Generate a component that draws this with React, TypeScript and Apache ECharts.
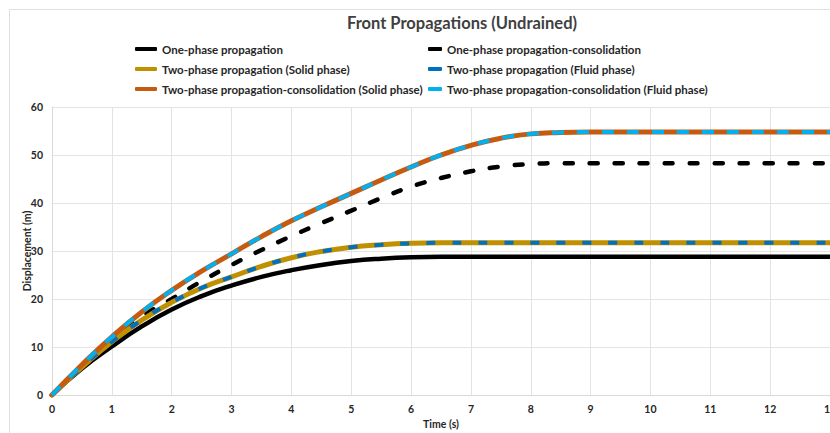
import React, { useEffect, useRef } from "react";
import * as echarts from "echarts";

// Time samples (s)
const time = [0, 0.5, 1, 1.5, 2, 2.5, 3, 3.5, 4, 4.5, 5, 5.5, 6, 6.5, 7, 7.5, 8, 8.5, 9, 9.5, 10, 10.5, 11, 11.5, 12, 12.5, 13];

// Displacement (m) of each front
const onePhase = [0, 5.5, 10.1, 14.3, 17.8, 20.6, 22.8, 24.6, 26.0, 27.1, 27.9, 28.4, 28.7, 28.8, 28.8, 28.8, 28.8, 28.8, 28.8, 28.8, 28.8, 28.8, 28.8, 28.8, 28.8, 28.8, 28.8];
const onePhaseConsol = [0, 6.0, 11.6, 16.3, 20.0, 23.7, 27.1, 30.2, 33.1, 35.8, 38.4, 41.0, 43.4, 45.2, 46.6, 47.6, 48.1, 48.3, 48.3, 48.3, 48.3, 48.3, 48.3, 48.3, 48.3, 48.3, 48.3];
const twoPhaseSolid = [0, 5.8, 11.1, 15.6, 19.3, 22.3, 24.6, 26.8, 28.6, 29.9, 30.8, 31.3, 31.6, 31.7, 31.7, 31.7, 31.7, 31.7, 31.7, 31.7, 31.7, 31.7, 31.7, 31.7, 31.7, 31.7, 31.7];
const twoPhaseFluid = twoPhaseSolid.slice();
const twoPhaseConsolSolid = [0, 6.3, 12.1, 17.3, 21.8, 25.8, 29.4, 33.0, 36.3, 39.2, 42.0, 44.8, 47.5, 50.0, 52.0, 53.5, 54.4, 54.7, 54.8, 54.8, 54.8, 54.8, 54.8, 54.8, 54.8, 54.8, 54.8];
const twoPhaseConsolFluid = twoPhaseConsolSolid.slice();

const names = [
  "One-phase propagation",
  "One-phase propagation-consolidation",
  "Two-phase propagation (Solid phase)",
  "Two-phase propagation (Fluid phase)",
  "Two-phase propagation-consolidation (Solid phase)",
  "Two-phase propagation-consolidation (Fluid phase)",
];

const FONT = "Lato, 'Open Sans', sans-serif";

const pairs = (ys: number[]) => time.map((t, i) => [t, ys[i]]);

export default function App() {
  const ref = useRef<HTMLDivElement>(null);

  useEffect(() => {
    if (!ref.current) return;
    const chart = echarts.init(ref.current, undefined, { renderer: "svg" });

    const line = (
      name: string,
      data: number[],
      color: string,
      width: number,
      dash?: number[],
      cap = "butt"
    ) => ({
      name,
      type: "line",
      data: pairs(data),
      smooth: 0.5,
      symbol: "none",
      color,
      lineStyle: {
        color,
        width,
        type: dash ?? "solid",
        cap: dash ? cap : "round",
      },
    });

    const legendText = {
      fontFamily: FONT,
      fontWeight: "bold",
      fontSize: 11.5,
      color: "#262626",
      lineHeight: 14,
    };

    const axisText = { fontFamily: FONT, fontWeight: "bold", fontSize: 10.5, color: "#262626" };

    chart.setOption({
      animation: false,
      backgroundColor: "#ffffff",
      title: {
        text: "Front Propagations (Undrained)",
        left: 457,
        top: 9,
        textAlign: "center",
        textStyle: {
          fontFamily: FONT,
          fontSize: 16.5,
          fontWeight: "bold",
          color: "#404040",
        },
      },
      legend: [
        {
          orient: "vertical",
          left: 135,
          top: 42,
          padding: 0,
          itemGap: 6,
          itemWidth: 22,
          itemHeight: 4,
          icon: "roundRect",
          textStyle: legendText,
          data: [names[0], names[2], names[4]],
        },
        {
          orient: "vertical",
          left: 428,
          top: 42,
          padding: 0,
          itemGap: 6,
          itemWidth: 14,
          itemHeight: 4,
          icon: "roundRect",
          textStyle: legendText,
          data: [names[1], names[3], names[5]],
        },
      ],
      grid: {
        left: 52,
        right: 0,
        top: 107,
        bottom: 38,
        containLabel: false,
        outerBoundsMode: "none",
      },
      xAxis: {
        type: "value",
        min: 0,
        max: 13,
        interval: 1,
        name: "Time (s)",
        nameLocation: "middle",
        nameGap: 23,
        nameMoveOverlap: false,
        nameTextStyle: axisText,
        axisLine: { show: true, lineStyle: { color: "#d9d9d9", width: 1 } },
        axisTick: { show: false },
        axisLabel: { margin: 8, ...axisText },
        splitLine: { show: true, lineStyle: { color: "#e3e3e3", width: 1 } },
      },
      yAxis: {
        type: "value",
        min: 0,
        max: 60,
        interval: 10,
        name: "Displacement (m)",
        nameLocation: "middle",
        nameGap: 20,
        nameMoveOverlap: false,
        nameTextStyle: axisText,
        axisLine: { show: true, lineStyle: { color: "#d9d9d9", width: 1 } },
        axisTick: { show: false },
        axisLabel: { margin: 9, ...axisText },
        splitLine: { show: true, lineStyle: { color: "#e3e3e3", width: 1 } },
      },
      graphic: [
        {
          type: "rect",
          silent: true,
          shape: { x: 9.5, y: 9.5, width: 900, height: 500 },
          style: { fill: "none", stroke: "#e0e0e0", lineWidth: 1 },
        },
      ],
      series: [
        line(names[0], onePhase, "#000000", 4.5),
        line(names[1], onePhaseConsol, "#000000", 4.5, [8, 17], "round"),
        line(names[2], twoPhaseSolid, "#BF9000", 5),
        line(names[3], twoPhaseFluid, "#0070C0", 4, [9, 17]),
        line(names[4], twoPhaseConsolSolid, "#C55A11", 5),
        line(names[5], twoPhaseConsolFluid, "#00B0F0", 4, [12, 13]),
      ],
    });

    return () => chart.dispose();
  }, []);

  return (
    <div
      ref={ref}
      style={{ position: "fixed", left: 0, top: 0, width: 830, height: 433 }}
    />
  );
}
